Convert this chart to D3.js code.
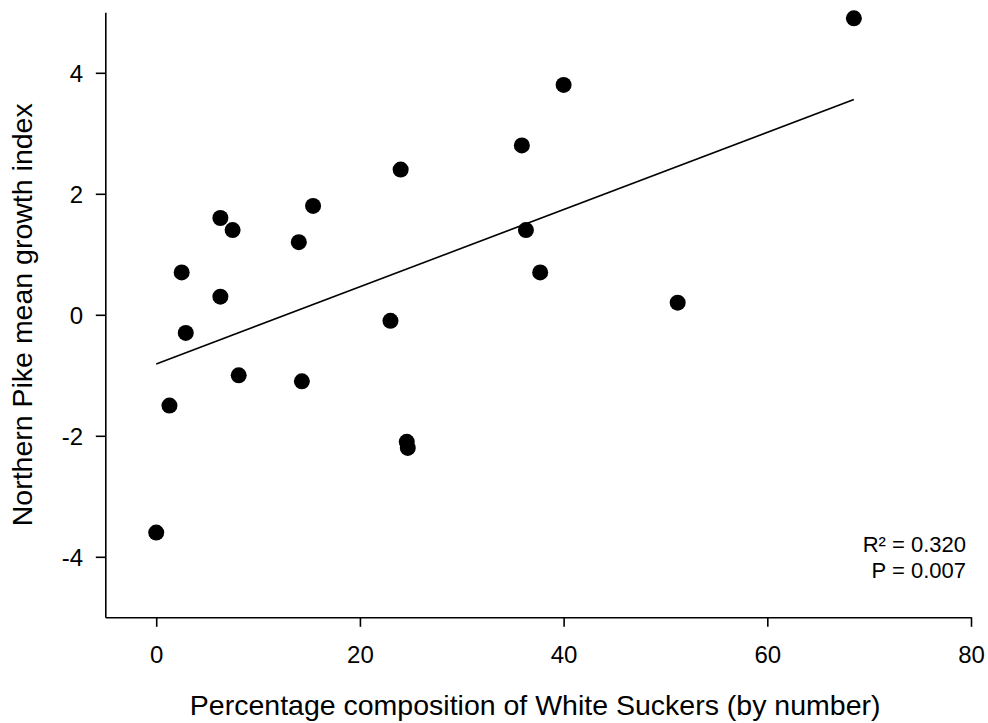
<!DOCTYPE html>
<html>
<head>
<meta charset="utf-8">
<script src="https://cdn.jsdelivr.net/npm/d3@7"></script>
<style>
  html, body { margin: 0; padding: 0; background: #fff; }
  svg { display: block; }
  text { font-family: "Liberation Sans", Arial, Helvetica, sans-serif; fill: #000; }
</style>
</head>
<body>
<svg id="chart" width="988" height="723"></svg>
<script>
// White Sucker share (%) in each lake and the Northern Pike mean growth index there
const whiteSuckerPct = [0, 1.3, 2.5, 2.9, 6.3, 6.3, 7.5, 8.1, 14.0, 14.3, 15.4,
                        23.0, 24.0, 24.6, 24.7, 35.9, 36.3, 37.7, 40.0, 51.2, 68.5];
const growthIndex    = [-3.6, -1.5, 0.7, -0.3, 1.6, 0.3, 1.4, -1.0, 1.2, -1.1, 1.8,
                        -0.1, 2.4, -2.1, -2.2, 2.8, 1.4, 0.7, 3.8, 0.2, 4.9];

const xTicks = [0, 20, 40, 60, 80];
const yTicks = [-4, -2, 0, 2, 4];
const statLines = ["R\u00B2 = 0.320", "P = 0.007"];

const xLabel = "Percentage composition of White Suckers (by number)";
const yLabel = "Northern Pike mean growth index";

const svg = d3.select("#chart");
const plot = { left: 105.3, right: 971, top: 12.3, bottom: 617.3 };

const x = d3.scaleLinear().domain([-5, 80]).range([plot.left, plot.right]);
const y = d3.scaleLinear().domain([-5, 5]).range([plot.bottom, plot.top]);

// Tick labels use a plain hyphen for negatives
const intFmt = d => String(d);

// Ordinary least-squares fit of growth index on White Sucker share
const mx = d3.mean(whiteSuckerPct), my = d3.mean(growthIndex);
let sxy = 0, sxx = 0;
whiteSuckerPct.forEach((v, i) => {
  sxy += (v - mx) * (growthIndex[i] - my);
  sxx += (v - mx) * (v - mx);
});
const slope = sxy / sxx;
const intercept = my - slope * mx;

// Axes
const xAxis = svg.append("g")
  .attr("transform", `translate(0,${plot.bottom})`)
  .call(d3.axisBottom(x).tickValues(xTicks).tickFormat(intFmt)
        .tickSize(9.5).tickSizeOuter(0));
xAxis.selectAll("text").attr("y", 45.7).attr("dy", 0)
  .style("font-size", "24px");

const yAxis = svg.append("g")
  .attr("transform", `translate(${plot.left},0)`)
  .call(d3.axisLeft(y).tickValues(yTicks).tickFormat(intFmt)
        .tickSize(9.5).tickSizeOuter(0));
yAxis.selectAll("text").attr("x", -22.3).attr("dy", "0.35em")
  .style("font-size", "24px");

svg.selectAll(".domain, .tick line")
  .attr("stroke", "#000").attr("stroke-width", 1.6);
svg.selectAll(".tick text").attr("fill", "#000")
  .style("font-family", "'Liberation Sans', Arial, sans-serif");

// Regression line across the observed range
const xMin = d3.min(whiteSuckerPct), xMax = d3.max(whiteSuckerPct);
svg.append("line")
  .attr("x1", x(xMin)).attr("y1", y(intercept + slope * xMin))
  .attr("x2", x(xMax)).attr("y2", y(intercept + slope * xMax))
  .attr("stroke", "#000").attr("stroke-width", 1.6);

// Observations
svg.append("g").selectAll("circle")
  .data(whiteSuckerPct.map((v, i) => [v, growthIndex[i]]))
  .join("circle")
  .attr("cx", d => x(d[0]))
  .attr("cy", d => y(d[1]))
  .attr("r", 8)
  .attr("fill", "#000");

// Fit statistics
svg.append("g").selectAll("text")
  .data(statLines)
  .join("text")
  .attr("x", 966)
  .attr("y", (d, i) => 552 + i * 25.5)
  .attr("text-anchor", "end")
  .style("font-size", "22px")
  .text(d => d);

// Axis titles
svg.append("text")
  .attr("x", (plot.left + plot.right) / 2 - 3)
  .attr("y", 715)
  .attr("text-anchor", "middle")
  .style("font-size", "28.5px")
  .text(xLabel);

svg.append("text")
  .attr("transform", `translate(32,${(plot.top + plot.bottom) / 2}) rotate(-90)`)
  .attr("text-anchor", "middle")
  .style("font-size", "28.5px")
  .text(yLabel);
</script>
</body>
</html>
